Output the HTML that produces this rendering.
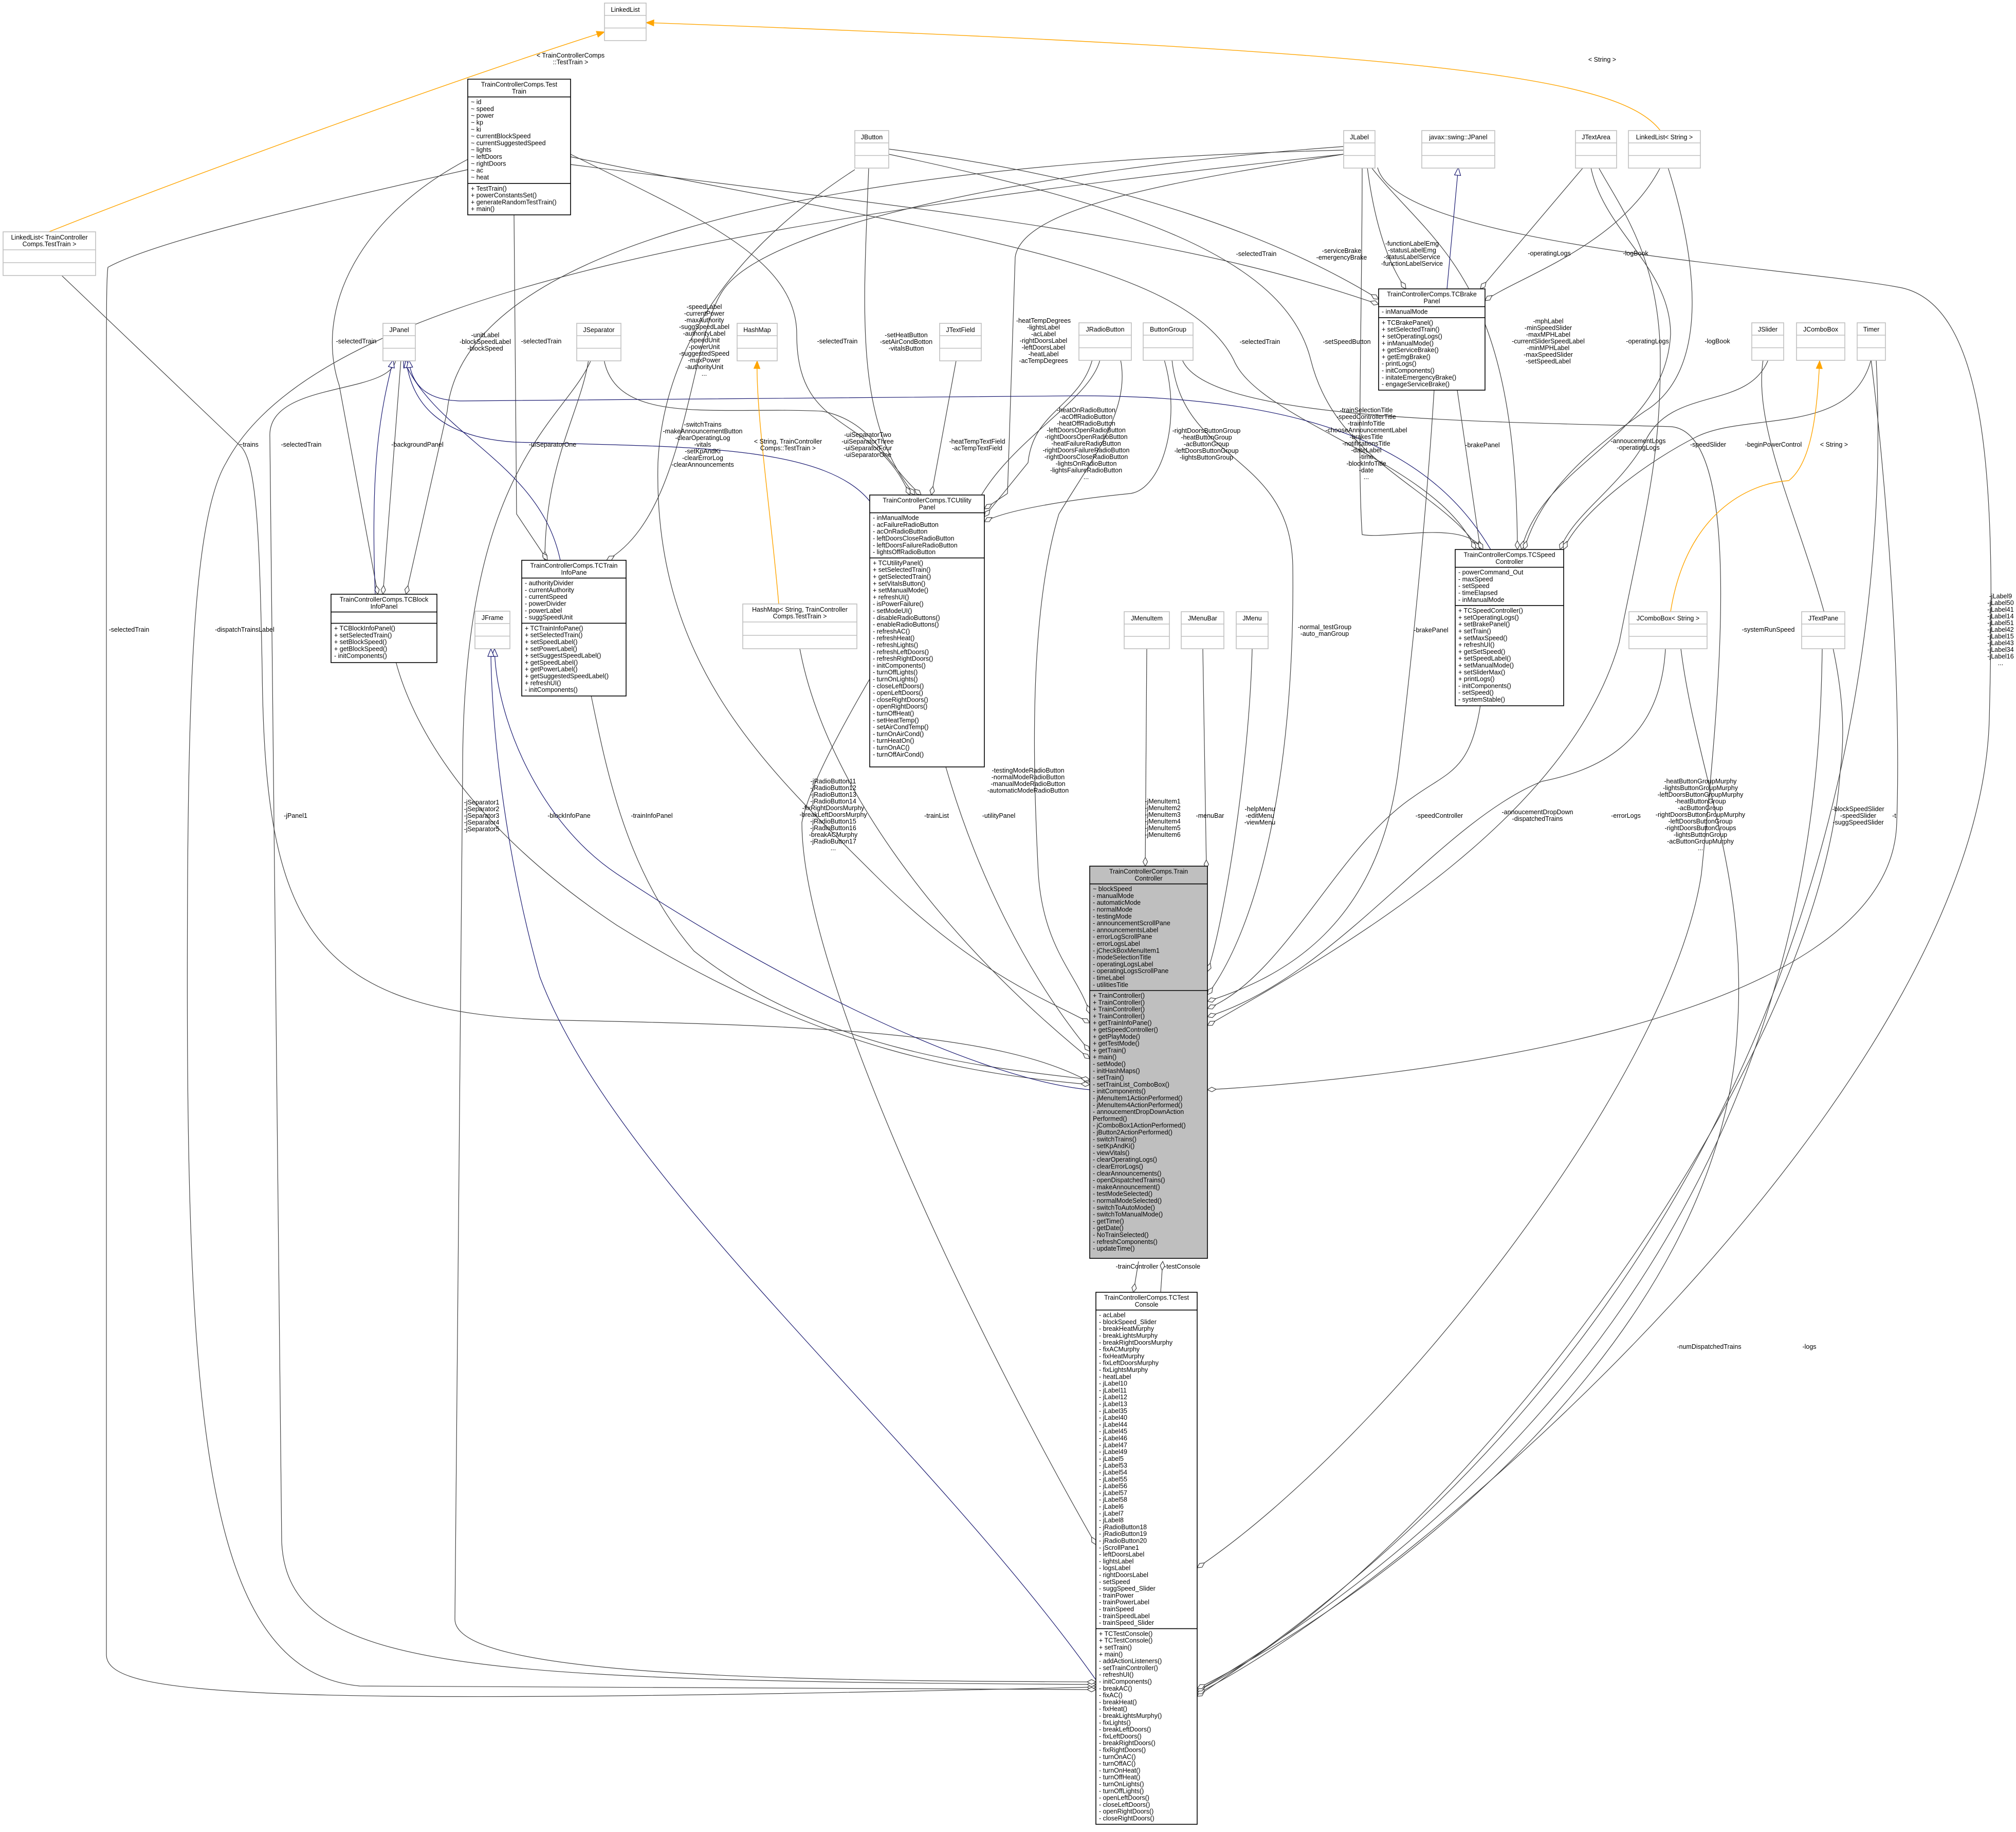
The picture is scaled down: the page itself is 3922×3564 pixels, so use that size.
<!DOCTYPE html>
<html><head><meta charset="utf-8"><style>
html,body{margin:0;padding:0;background:#fff}
svg{display:block}
text{font-family:"Liberation Sans",Arial,sans-serif;font-size:12.5px;fill:#000}
.c{text-anchor:middle}
.e{fill:none;stroke:#404040;stroke-width:1.2}
.b{fill:none;stroke:#191970;stroke-width:1.2}
.o{fill:none;stroke:#ffa500;stroke-width:1.4}
.box{fill:#fff;stroke:#000;stroke-width:1.6}
.gbox{fill:#fff;stroke:#bfbfbf;stroke-width:1.6}
.ln{stroke:#000;stroke-width:1.6}
.gln{stroke:#bfbfbf;stroke-width:1.6}
</style></head><body>
<svg width="3922" height="3564" viewBox="0 0 3922 3564" xmlns="http://www.w3.org/2000/svg">
<defs>
<marker id="d" markerWidth="20" markerHeight="12" refX="18" refY="6" orient="auto" markerUnits="userSpaceOnUse"><path d="M1,6 L9.5,1.5 L18,6 L9.5,10.5 Z" fill="#fff" stroke="#404040" stroke-width="1.2"/></marker>
<marker id="tb" markerWidth="18" markerHeight="14" refX="16" refY="7" orient="auto" markerUnits="userSpaceOnUse"><path d="M1,1 L16,7 L1,13 Z" fill="#fff" stroke="#191970" stroke-width="1.2"/></marker>
<marker id="to" markerWidth="18" markerHeight="14" refX="16" refY="7" orient="auto" markerUnits="userSpaceOnUse"><path d="M1,1 L16,7 L1,13 Z" fill="#ffa500" stroke="#ffa500"/></marker>
</defs>
<rect width="3922" height="3564" fill="#fff"/>

<!-- composition edges -->
<g class="e" marker-end="url(#d)">
<path class="e" marker-end="url(#d)" d="M120 536 L470 870 C500 905 505 1050 510 1300 C515 1800 600 1975 1100 1985 C1600 1995 1950 2010 2120 2105"/>
<path class="e" marker-end="url(#d)" d="M910 330 C600 400 300 470 210 520 C207 540 207 600 207 800 L207 3220 C210 3300 500 3320 2132 3282"/>
<path class="e" marker-end="url(#d)" d="M2614 300 C1500 420 620 560 440 900 C380 1000 368 1300 365 1700 C360 2700 380 3250 700 3280 L2132 3287"/>
<path class="e" marker-end="url(#d)" d="M770 700 C760 770 520 740 525 850 L548 3000 C560 3250 900 3270 2132 3277"/>
<path class="e" marker-end="url(#d)" d="M1150 700 C1100 820 900 900 900 1500 L885 3150 C885 3260 1500 3270 2132 3272"/>
<path class="e" marker-end="url(#d)" d="M770 1287 C800 1400 900 1600 1200 1800 C1600 2050 1900 2090 2120 2110"/>
<path class="e" marker-end="url(#d)" d="M1150 1353 C1180 1500 1220 1700 1350 1850 C1600 2050 1950 2080 2120 2100"/>
<path class="e" marker-end="url(#d)" d="M2140 700 C2120 780 1960 860 1900 980 C1700 1300 1580 1500 1560 1600 C1560 1900 1900 2600 2132 3005"/>
<path class="e" marker-end="url(#d)" d="M1556 1262 C1600 1500 1800 1800 2120 2060"/>
<path class="e" marker-end="url(#d)" d="M1840 1492 C1900 1700 2000 1900 2120 2045"/>
<path class="e" marker-end="url(#d)" d="M2231 1262 L2228 1685"/>
<path class="e" marker-end="url(#d)" d="M2340 1262 L2347 1690"/>
<path class="e" marker-end="url(#d)" d="M2436 1262 C2430 1500 2380 1800 2349 1890"/>
<path class="e" marker-end="url(#d)" d="M2280 700 C2300 900 2510 880 2515 1100 C2520 1500 2450 1800 2349 1935"/>
<path class="e" marker-end="url(#d)" d="M2790 759 C2775 1000 2745 1300 2720 1500 C2680 1800 2500 1900 2349 1948"/>
<path class="e" marker-end="url(#d)" d="M2880 1372 C2860 1500 2820 1500 2750 1550 C2600 1650 2500 1900 2349 1962"/>
<path class="e" marker-end="url(#d)" d="M3240 1262 C3230 1450 3100 1500 3000 1520 C2800 1600 2600 1900 2349 1978"/>
<path class="e" marker-end="url(#d)" d="M3110 326 C3150 400 3230 500 3230 700 C3230 900 3200 1000 3150 1250 C3050 1600 2600 1850 2349 1995"/>
<path class="e" marker-end="url(#d)" d="M2300 700 C2350 820 2900 820 3250 830 C3400 840 3340 1400 3310 1700 C3250 2100 2700 2800 2329 3050"/>
<path class="e" marker-end="url(#d)" d="M3430 700 C3400 900 3620 1200 3580 1500 C3540 2100 2800 3050 2329 3290"/>
<path class="e" marker-end="url(#d)" d="M3640 700 C3665 900 3700 1300 3690 1600 C3680 2000 2700 2100 2349 2120"/>
<path class="e" marker-end="url(#d)" d="M3650 700 C3665 1000 3690 2400 2329 3300"/>
<path class="e" marker-end="url(#d)" d="M2680 326 C2720 480 3500 520 3700 560 C3880 600 3880 1000 3870 1400 C3850 2100 2800 3050 2329 3295"/>
<path class="e" marker-end="url(#d)" d="M3545 1262 C3540 1600 3500 2600 2329 3290"/>
<path class="e" marker-end="url(#d)" d="M3270 1262 C3300 1500 3400 1700 3380 2000 C3350 2600 2700 3100 2329 3285"/>
<path class="e" marker-end="url(#d)" d="M2180 700 C2200 800 2120 900 2060 1000 C2000 1200 2010 1500 2020 1700 C2030 1850 2100 1900 2120 1972"/>
<path class="e" marker-end="url(#d)" d="M2215 2454 L2205 2514"/>
<path class="e" marker-end="url(#d)" d="M2258 2514 L2262 2454"/>
<path class="e" marker-end="url(#d)" d="M1663 330 C1400 500 1290 700 1280 900 C1270 1300 1500 1500 1700 1700 C1900 1900 2050 1950 2120 1990"/>
<path class="e" marker-end="url(#d)" d="M2614 285 C2000 330 1500 440 1410 560 C1340 650 1340 1000 1180 1090"/>
<path class="e" marker-end="url(#d)" d="M1145 700 C1130 800 1060 900 1060 1090"/>
<path class="e" marker-end="url(#d)" d="M1000 418 L1005 1000 L1065 1090"/>
<path class="e" marker-end="url(#d)" d="M1690 326 C1680 600 1660 820 1780 963"/>
<path class="e" marker-end="url(#d)" d="M1860 702 L1812 963"/>
<path class="e" marker-end="url(#d)" d="M1175 700 C1200 830 1400 790 1600 800 C1700 820 1720 900 1792 963"/>
<path class="e" marker-end="url(#d)" d="M1110 300 C1350 420 1550 500 1550 650 C1550 850 1700 800 1770 963"/>
<path class="e" marker-end="url(#d)" d="M2614 300 C2300 350 1990 400 1975 500 L1960 960 L1915 990"/>
<path class="e" marker-end="url(#d)" d="M2125 700 C2100 790 2010 800 2000 900 L1915 1005"/>
<path class="e" marker-end="url(#d)" d="M2265 700 C2300 820 2260 950 2200 960 C2100 970 1960 990 1915 1015"/>
<path class="e" marker-end="url(#d)" d="M910 310 C700 420 610 600 660 750 L735 1156"/>
<path class="e" marker-end="url(#d)" d="M780 700 L745 1156"/>
<path class="e" marker-end="url(#d)" d="M2614 292 C1500 320 900 500 870 800 L790 1156"/>
<path class="e" marker-end="url(#d)" d="M2660 326 C2680 480 2720 540 2735 562"/>
<path class="e" marker-end="url(#d)" d="M3080 326 L2880 562"/>
<path class="e" marker-end="url(#d)" d="M3230 326 C3150 480 2950 540 2889 585"/>
<path class="e" marker-end="url(#d)" d="M1110 320 C1900 420 2300 460 2682 592"/>
<path class="e" marker-end="url(#d)" d="M1729 290 C2200 350 2500 470 2682 582"/>
<path class="e" marker-end="url(#d)" d="M2668 326 C2790 480 2950 540 2952 1069"/>
<path class="e" marker-end="url(#d)" d="M3095 326 C3120 450 3250 520 3250 650 C3240 850 3000 900 2960 1069"/>
<path class="e" marker-end="url(#d)" d="M3245 326 C3300 500 3330 720 3200 800 C3100 870 3000 950 2965 1069"/>
<path class="e" marker-end="url(#d)" d="M3440 700 C3400 800 3250 750 3200 860 C3150 950 3060 1000 3035 1069"/>
<path class="e" marker-end="url(#d)" d="M3640 700 C3600 850 3400 800 3300 850 C3200 900 3070 1000 3042 1069"/>
<path class="e" marker-end="url(#d)" d="M2835 759 L2880 1069"/>
<path class="e" marker-end="url(#d)" d="M1729 300 C2200 400 2500 500 2550 700 C2600 900 2800 950 2878 1069"/>
<path class="e" marker-end="url(#d)" d="M1110 305 C1800 450 2300 500 2400 700 C2450 820 2800 900 2870 1069"/>
<path class="e" marker-end="url(#d)" d="M2650 326 C2650 600 2640 900 2650 1040 C2700 1050 2850 1010 2885 1069"/>
</g>

<!-- inheritance -->
<path class="b" marker-end="url(#tb)" d="M730 1156 C720 900 740 800 765 700"/>
<path class="b" marker-end="url(#tb)" d="M1090 1090 C1050 900 850 850 785 700"/>
<path class="b" marker-end="url(#tb)" d="M1692 975 C1600 860 1300 870 1000 860 C850 850 800 780 790 700"/>
<path class="b" marker-end="url(#tb)" d="M2900 1069 C2800 900 2600 770 2100 770 L900 780 C820 780 800 740 795 700"/>
<path class="b" marker-end="url(#tb)" d="M2815 562 L2837 326"/>
<path class="b" marker-end="url(#tb)" d="M2120 2120 C1900 2100 1500 1900 1200 1700 C1050 1600 965 1400 962 1262"/>
<path class="b" marker-end="url(#tb)" d="M2132 3268 C1800 2800 1200 2300 1050 1900 C980 1650 955 1400 955 1262"/>

<!-- template -->
<path class="o" marker-end="url(#to)" d="M95 451 C400 330 900 150 1176 62"/>
<path class="o" marker-end="url(#to)" d="M3230 254 C3150 150 2800 100 1257 44"/>
<path class="o" marker-end="url(#to)" d="M1515 1175 C1500 1000 1470 800 1473 702"/>
<path class="o" marker-end="url(#to)" d="M3250 1190 C3280 1000 3400 940 3480 935 C3525 900 3535 800 3540 702"/>

<!-- gray boxes -->
<g>
<rect class="gbox" x="1176" y="6" width="81" height="73"/><line class="gln" x1="1176" y1="30" x2="1257" y2="30"/><line class="gln" x1="1176" y1="54.5" x2="1257" y2="54.5"/><text class="c" x="1216.5" y="23">LinkedList</text>
<rect class="gbox" x="1663" y="254" width="66" height="73"/><line class="gln" x1="1663" y1="278" x2="1729" y2="278"/><line class="gln" x1="1663" y1="302.5" x2="1729" y2="302.5"/><text class="c" x="1696" y="271">JButton</text>
<rect class="gbox" x="2614" y="254" width="61" height="73"/><line class="gln" x1="2614" y1="278" x2="2675" y2="278"/><line class="gln" x1="2614" y1="302.5" x2="2675" y2="302.5"/><text class="c" x="2644.5" y="271">JLabel</text>
<rect class="gbox" x="2766" y="254" width="142" height="73"/><line class="gln" x1="2766" y1="278" x2="2908" y2="278"/><line class="gln" x1="2766" y1="302.5" x2="2908" y2="302.5"/><text class="c" x="2837" y="271">javax::swing::JPanel</text>
<rect class="gbox" x="3065" y="254" width="80" height="73"/><line class="gln" x1="3065" y1="278" x2="3145" y2="278"/><line class="gln" x1="3065" y1="302.5" x2="3145" y2="302.5"/><text class="c" x="3105" y="271">JTextArea</text>
<rect class="gbox" x="3168" y="254" width="140" height="73"/><line class="gln" x1="3168" y1="278" x2="3308" y2="278"/><line class="gln" x1="3168" y1="302.5" x2="3308" y2="302.5"/><text class="c" x="3238" y="271">LinkedList&lt; String &gt;</text>
<rect class="gbox" x="745" y="629" width="63" height="73"/><line class="gln" x1="745" y1="653" x2="808" y2="653"/><line class="gln" x1="745" y1="677.5" x2="808" y2="677.5"/><text class="c" x="776.5" y="646">JPanel</text>
<rect class="gbox" x="1122" y="629" width="86" height="73"/><line class="gln" x1="1122" y1="653" x2="1208" y2="653"/><line class="gln" x1="1122" y1="677.5" x2="1208" y2="677.5"/><text class="c" x="1165" y="646">JSeparator</text>
<rect class="gbox" x="1434" y="629" width="78" height="73"/><line class="gln" x1="1434" y1="653" x2="1512" y2="653"/><line class="gln" x1="1434" y1="677.5" x2="1512" y2="677.5"/><text class="c" x="1473" y="646">HashMap</text>
<rect class="gbox" x="1828" y="629" width="81" height="73"/><line class="gln" x1="1828" y1="653" x2="1909" y2="653"/><line class="gln" x1="1828" y1="677.5" x2="1909" y2="677.5"/><text class="c" x="1868.5" y="646">JTextField</text>
<rect class="gbox" x="2099" y="628" width="102" height="73"/><line class="gln" x1="2099" y1="652" x2="2201" y2="652"/><line class="gln" x1="2099" y1="676.5" x2="2201" y2="676.5"/><text class="c" x="2150" y="645">JRadioButton</text>
<rect class="gbox" x="2224" y="628" width="97" height="73"/><line class="gln" x1="2224" y1="652" x2="2321" y2="652"/><line class="gln" x1="2224" y1="676.5" x2="2321" y2="676.5"/><text class="c" x="2272.5" y="645">ButtonGroup</text>
<rect class="gbox" x="3408" y="628" width="62" height="73"/><line class="gln" x1="3408" y1="652" x2="3470" y2="652"/><line class="gln" x1="3408" y1="676.5" x2="3470" y2="676.5"/><text class="c" x="3439" y="645">JSlider</text>
<rect class="gbox" x="3495" y="628" width="94" height="73"/><line class="gln" x1="3495" y1="652" x2="3589" y2="652"/><line class="gln" x1="3495" y1="676.5" x2="3589" y2="676.5"/><text class="c" x="3542" y="645">JComboBox</text>
<rect class="gbox" x="3613" y="628" width="55" height="73"/><line class="gln" x1="3613" y1="652" x2="3668" y2="652"/><line class="gln" x1="3613" y1="676.5" x2="3668" y2="676.5"/><text class="c" x="3640.5" y="645">Timer</text>
<rect class="gbox" x="6" y="451" width="180" height="85"/><line class="gln" x1="6" y1="486" x2="186" y2="486"/><line class="gln" x1="6" y1="511" x2="186" y2="511"/><text class="c" x="96" y="466">LinkedList&lt; TrainController</text><text class="c" x="96" y="479">Comps.TestTrain &gt;</text>
<rect class="gbox" x="924" y="1189" width="68" height="73"/><line class="gln" x1="924" y1="1213" x2="992" y2="1213"/><line class="gln" x1="924" y1="1237.5" x2="992" y2="1237.5"/><text class="c" x="958" y="1206">JFrame</text>
<rect class="gbox" x="1445" y="1175" width="222" height="87"/><line class="gln" x1="1445" y1="1210" x2="1667" y2="1210"/><line class="gln" x1="1445" y1="1236" x2="1667" y2="1236"/><text class="c" x="1556" y="1190">HashMap&lt; String, TrainController</text><text class="c" x="1556" y="1203">Comps.TestTrain &gt;</text>
<rect class="gbox" x="2187" y="1190" width="88" height="72"/><line class="gln" x1="2187" y1="1214" x2="2275" y2="1214"/><line class="gln" x1="2187" y1="1238" x2="2275" y2="1238"/><text class="c" x="2231" y="1207">JMenuItem</text>
<rect class="gbox" x="2298" y="1190" width="83" height="72"/><line class="gln" x1="2298" y1="1214" x2="2381" y2="1214"/><line class="gln" x1="2298" y1="1238" x2="2381" y2="1238"/><text class="c" x="2339.5" y="1207">JMenuBar</text>
<rect class="gbox" x="2405" y="1190" width="62" height="72"/><line class="gln" x1="2405" y1="1214" x2="2467" y2="1214"/><line class="gln" x1="2405" y1="1238" x2="2467" y2="1238"/><text class="c" x="2436" y="1207">JMenu</text>
<rect class="gbox" x="3169" y="1190" width="152" height="72"/><line class="gln" x1="3169" y1="1214" x2="3321" y2="1214"/><line class="gln" x1="3169" y1="1238" x2="3321" y2="1238"/><text class="c" x="3245" y="1207">JComboBox&lt; String &gt;</text>
<rect class="gbox" x="3505" y="1190" width="84" height="72"/><line class="gln" x1="3505" y1="1214" x2="3589" y2="1214"/><line class="gln" x1="3505" y1="1238" x2="3589" y2="1238"/><text class="c" x="3547" y="1207">JTextPane</text>
</g>

<!-- TestTrain -->
<rect class="box" x="910" y="154" width="200" height="264"/>
<line class="ln" x1="910" y1="188.6" x2="1110" y2="188.6"/><line class="ln" x1="910" y1="356.8" x2="1110" y2="356.8"/>
<text class="c" x="1010" y="168.5">TrainControllerComps.Test</text><text class="c" x="1010" y="181.8">Train</text>
<text x="916" y="202.6"><tspan>~ id</tspan><tspan x="916" dy="13.3">~ speed</tspan><tspan x="916" dy="13.3">~ power</tspan><tspan x="916" dy="13.3">~ kp</tspan><tspan x="916" dy="13.3">~ ki</tspan><tspan x="916" dy="13.3">~ currentBlockSpeed</tspan><tspan x="916" dy="13.3">~ currentSuggestedSpeed</tspan><tspan x="916" dy="13.3">~ lights</tspan><tspan x="916" dy="13.3">~ leftDoors</tspan><tspan x="916" dy="13.3">~ rightDoors</tspan><tspan x="916" dy="13.3">~ ac</tspan><tspan x="916" dy="13.3">~ heat</tspan></text>
<text x="916" y="370.8"><tspan>+ TestTrain()</tspan><tspan x="916" dy="13.3">+ powerConstantsSet()</tspan><tspan x="916" dy="13.3">+ generateRandomTestTrain()</tspan><tspan x="916" dy="13.3">+ main()</tspan></text>

<!-- TCBrake -->
<rect class="box" x="2682" y="562" width="207" height="197"/>
<line class="ln" x1="2682" y1="596.6" x2="2889" y2="596.6"/><line class="ln" x1="2682" y1="617.9" x2="2889" y2="617.9"/>
<text class="c" x="2785.5" y="576.5">TrainControllerComps.TCBrake</text><text class="c" x="2785.5" y="589.8">Panel</text>
<text x="2688" y="610.6">- inManualMode</text>
<text x="2688" y="631.9"><tspan>+ TCBrakePanel()</tspan><tspan x="2688" dy="13.3">+ setSelectedTrain()</tspan><tspan x="2688" dy="13.3">+ setOperatingLogs()</tspan><tspan x="2688" dy="13.3">+ inManualMode()</tspan><tspan x="2688" dy="13.3">+ getServiceBrake()</tspan><tspan x="2688" dy="13.3">+ getEmgBrake()</tspan><tspan x="2688" dy="13.3">- printLogs()</tspan><tspan x="2688" dy="13.3">- initComponents()</tspan><tspan x="2688" dy="13.3">- initateEmergencyBrake()</tspan><tspan x="2688" dy="13.3">- engageServiceBrake()</tspan></text>

<!-- TCSpeed -->
<rect class="box" x="2831" y="1069" width="211" height="304"/>
<line class="ln" x1="2831" y1="1103.6" x2="3042" y2="1103.6"/><line class="ln" x1="2831" y1="1178.1" x2="3042" y2="1178.1"/>
<text class="c" x="2936.5" y="1083.5">TrainControllerComps.TCSpeed</text><text class="c" x="2936.5" y="1096.8">Controller</text>
<text x="2837" y="1117.6"><tspan>- powerCommand_Out</tspan><tspan x="2837" dy="13.3">- maxSpeed</tspan><tspan x="2837" dy="13.3">- setSpeed</tspan><tspan x="2837" dy="13.3">- timeElapsed</tspan><tspan x="2837" dy="13.3">- inManualMode</tspan></text>
<text x="2837" y="1192.1"><tspan>+ TCSpeedController()</tspan><tspan x="2837" dy="13.3">+ setOperatingLogs()</tspan><tspan x="2837" dy="13.3">+ setBrakePanel()</tspan><tspan x="2837" dy="13.3">+ setTrain()</tspan><tspan x="2837" dy="13.3">+ setMaxSpeed()</tspan><tspan x="2837" dy="13.3">+ refreshUI()</tspan><tspan x="2837" dy="13.3">+ getSetSpeed()</tspan><tspan x="2837" dy="13.3">+ setSpeedLabel()</tspan><tspan x="2837" dy="13.3">+ setManualMode()</tspan><tspan x="2837" dy="13.3">+ setSliderMax()</tspan><tspan x="2837" dy="13.3">+ printLogs()</tspan><tspan x="2837" dy="13.3">- initComponents()</tspan><tspan x="2837" dy="13.3">- setSpeed()</tspan><tspan x="2837" dy="13.3">- systemStable()</tspan></text>

<!-- TCUtility -->
<rect class="box" x="1692" y="963" width="223" height="529"/>
<line class="ln" x1="1692" y1="997.6" x2="1915" y2="997.6"/><line class="ln" x1="1692" y1="1085.4" x2="1915" y2="1085.4"/>
<text class="c" x="1803.5" y="977.5">TrainControllerComps.TCUtility</text><text class="c" x="1803.5" y="990.8">Panel</text>
<text x="1698" y="1011.6"><tspan>- inManualMode</tspan><tspan x="1698" dy="13.3">- acFailureRadioButton</tspan><tspan x="1698" dy="13.3">- acOnRadioButton</tspan><tspan x="1698" dy="13.3">- leftDoorsCloseRadioButton</tspan><tspan x="1698" dy="13.3">- leftDoorsFailureRadioButton</tspan><tspan x="1698" dy="13.3">- lightsOffRadioButton</tspan></text>
<text x="1698" y="1099.4"><tspan>+ TCUtilityPanel()</tspan><tspan x="1698" dy="13.3">+ setSelectedTrain()</tspan><tspan x="1698" dy="13.3">+ getSelectedTrain()</tspan><tspan x="1698" dy="13.3">+ setVitalsButton()</tspan><tspan x="1698" dy="13.3">+ setManualMode()</tspan><tspan x="1698" dy="13.3">+ refreshUI()</tspan><tspan x="1698" dy="13.3">- isPowerFailure()</tspan><tspan x="1698" dy="13.3">- setModeUI()</tspan><tspan x="1698" dy="13.3">- disableRadioButtons()</tspan><tspan x="1698" dy="13.3">- enableRadioButtons()</tspan><tspan x="1698" dy="13.3">- refreshAC()</tspan><tspan x="1698" dy="13.3">- refreshHeat()</tspan><tspan x="1698" dy="13.3">- refreshLights()</tspan><tspan x="1698" dy="13.3">- refreshLeftDoors()</tspan><tspan x="1698" dy="13.3">- refreshRightDoors()</tspan><tspan x="1698" dy="13.3">- initComponents()</tspan><tspan x="1698" dy="13.3">- turnOffLights()</tspan><tspan x="1698" dy="13.3">- turnOnLights()</tspan><tspan x="1698" dy="13.3">- closeLeftDoors()</tspan><tspan x="1698" dy="13.3">- openLeftDoors()</tspan><tspan x="1698" dy="13.3">- closeRightDoors()</tspan><tspan x="1698" dy="13.3">- openRightDoors()</tspan><tspan x="1698" dy="13.3">- turnOffHeat()</tspan><tspan x="1698" dy="13.3">- setHeatTemp()</tspan><tspan x="1698" dy="13.3">- setAirCondTemp()</tspan><tspan x="1698" dy="13.3">- turnOnAirCond()</tspan><tspan x="1698" dy="13.3">- turnHeatOn()</tspan><tspan x="1698" dy="13.3">- turnOnAC()</tspan><tspan x="1698" dy="13.3">- turnOffAirCond()</tspan></text>

<!-- TCTrainInfo -->
<rect class="box" x="1015" y="1090" width="203" height="264"/>
<line class="ln" x1="1015" y1="1124.6" x2="1218" y2="1124.6"/><line class="ln" x1="1015" y1="1212.4" x2="1218" y2="1212.4"/>
<text class="c" x="1116.5" y="1104.5">TrainControllerComps.TCTrain</text><text class="c" x="1116.5" y="1117.8">InfoPane</text>
<text x="1021" y="1138.6"><tspan>- authorityDivider</tspan><tspan x="1021" dy="13.3">- currentAuthority</tspan><tspan x="1021" dy="13.3">- currentSpeed</tspan><tspan x="1021" dy="13.3">- powerDivider</tspan><tspan x="1021" dy="13.3">- powerLabel</tspan><tspan x="1021" dy="13.3">- suggSpeedUnit</tspan></text>
<text x="1021" y="1226.4"><tspan>+ TCTrainInfoPane()</tspan><tspan x="1021" dy="13.3">+ setSelectedTrain()</tspan><tspan x="1021" dy="13.3">+ setSpeedLabel()</tspan><tspan x="1021" dy="13.3">+ setPowerLabel()</tspan><tspan x="1021" dy="13.3">+ setSuggestSpeedLabel()</tspan><tspan x="1021" dy="13.3">+ getSpeedLabel()</tspan><tspan x="1021" dy="13.3">+ getPowerLabel()</tspan><tspan x="1021" dy="13.3">+ getSuggestedSpeedLabel()</tspan><tspan x="1021" dy="13.3">+ refreshUI()</tspan><tspan x="1021" dy="13.3">- initComponents()</tspan></text>

<!-- TCBlock -->
<rect class="box" x="644" y="1156" width="206" height="133"/>
<line class="ln" x1="644" y1="1190.6" x2="850" y2="1190.6"/><line class="ln" x1="644" y1="1212.6" x2="850" y2="1212.6"/>
<text class="c" x="747" y="1170.5">TrainControllerComps.TCBlock</text><text class="c" x="747" y="1183.8">InfoPanel</text>
<text x="650" y="1226.6"><tspan>+ TCBlockInfoPanel()</tspan><tspan x="650" dy="13.3">+ setSelectedTrain()</tspan><tspan x="650" dy="13.3">+ setBlockSpeed()</tspan><tspan x="650" dy="13.3">+ getBlockSpeed()</tspan><tspan x="650" dy="13.3">- initComponents()</tspan></text>

<!-- Main TrainController -->
<rect x="2120" y="1685" width="229" height="763" fill="#bfbfbf" stroke="#000" stroke-width="1.6"/>
<line class="ln" x1="2120" y1="1719.6" x2="2349" y2="1719.6"/><line class="ln" x1="2120" y1="1927" x2="2349" y2="1927"/>
<text class="c" x="2234.5" y="1699.5">TrainControllerComps.Train</text><text class="c" x="2234.5" y="1712.8">Controller</text>
<text x="2126" y="1733.6"><tspan>~ blockSpeed</tspan><tspan x="2126" dy="13.3">- manualMode</tspan><tspan x="2126" dy="13.3">- automaticMode</tspan><tspan x="2126" dy="13.3">- normalMode</tspan><tspan x="2126" dy="13.3">- testingMode</tspan><tspan x="2126" dy="13.3">- announcementScrollPane</tspan><tspan x="2126" dy="13.3">- announcementsLabel</tspan><tspan x="2126" dy="13.3">- errorLogScrollPane</tspan><tspan x="2126" dy="13.3">- errorLogsLabel</tspan><tspan x="2126" dy="13.3">- jCheckBoxMenuItem1</tspan><tspan x="2126" dy="13.3">- modeSelectionTitle</tspan><tspan x="2126" dy="13.3">- operatingLogsLabel</tspan><tspan x="2126" dy="13.3">- operatingLogsScrollPane</tspan><tspan x="2126" dy="13.3">- timeLabel</tspan><tspan x="2126" dy="13.3">- utilitiesTitle</tspan></text>
<text x="2126" y="1941"><tspan>+ TrainController()</tspan><tspan x="2126" dy="13.3">+ TrainController()</tspan><tspan x="2126" dy="13.3">+ TrainController()</tspan><tspan x="2126" dy="13.3">+ TrainController()</tspan><tspan x="2126" dy="13.3">+ getTrainInfoPane()</tspan><tspan x="2126" dy="13.3">+ getSpeedController()</tspan><tspan x="2126" dy="13.3">+ getPlayMode()</tspan><tspan x="2126" dy="13.3">+ getTestMode()</tspan><tspan x="2126" dy="13.3">+ getTrain()</tspan><tspan x="2126" dy="13.3">+ main()</tspan><tspan x="2126" dy="13.3">- setMode()</tspan><tspan x="2126" dy="13.3">- initHashMaps()</tspan><tspan x="2126" dy="13.3">- setTrain()</tspan><tspan x="2126" dy="13.3">- setTrainList_ComboBox()</tspan><tspan x="2126" dy="13.3">- initComponents()</tspan><tspan x="2126" dy="13.3">- jMenuItem1ActionPerformed()</tspan><tspan x="2126" dy="13.3">- jMenuItem4ActionPerformed()</tspan><tspan x="2126" dy="13.3">- annoucementDropDownAction</tspan><tspan x="2126" dy="13.3">Performed()</tspan><tspan x="2126" dy="13.3">- jComboBox1ActionPerformed()</tspan><tspan x="2126" dy="13.3">- jButton2ActionPerformed()</tspan><tspan x="2126" dy="13.3">- switchTrains()</tspan><tspan x="2126" dy="13.3">- setKpAndKi()</tspan><tspan x="2126" dy="13.3">- viewVitals()</tspan><tspan x="2126" dy="13.3">- clearOperatingLogs()</tspan><tspan x="2126" dy="13.3">- clearErrorLogs()</tspan><tspan x="2126" dy="13.3">- clearAnnouncements()</tspan><tspan x="2126" dy="13.3">- openDispatchedTrains()</tspan><tspan x="2126" dy="13.3">- makeAnnouncement()</tspan><tspan x="2126" dy="13.3">- testModeSelected()</tspan><tspan x="2126" dy="13.3">- normalModeSelected()</tspan><tspan x="2126" dy="13.3">- switchToAutoMode()</tspan><tspan x="2126" dy="13.3">- switchToManualMode()</tspan><tspan x="2126" dy="13.3">- getTime()</tspan><tspan x="2126" dy="13.3">- getDate()</tspan><tspan x="2126" dy="13.3">- NoTrainSelected()</tspan><tspan x="2126" dy="13.3">- refreshComponents()</tspan><tspan x="2126" dy="13.3">- updateTime()</tspan></text>

<!-- TCTestConsole -->
<rect class="box" x="2132" y="2514" width="197" height="1035"/>
<line class="ln" x1="2132" y1="2548.6" x2="2329" y2="2548.6"/><line class="ln" x1="2132" y1="3168.4" x2="2329" y2="3168.4"/>
<text class="c" x="2230.5" y="2528.5">TrainControllerComps.TCTest</text><text class="c" x="2230.5" y="2541.8">Console</text>
<text x="2138" y="2562.6"><tspan>- acLabel</tspan><tspan x="2138" dy="13.3">- blockSpeed_Slider</tspan><tspan x="2138" dy="13.3">- breakHeatMurphy</tspan><tspan x="2138" dy="13.3">- breakLightsMurphy</tspan><tspan x="2138" dy="13.3">- breakRightDoorsMurphy</tspan><tspan x="2138" dy="13.3">- fixACMurphy</tspan><tspan x="2138" dy="13.3">- fixHeatMurphy</tspan><tspan x="2138" dy="13.3">- fixLeftDoorsMurphy</tspan><tspan x="2138" dy="13.3">- fixLightsMurphy</tspan><tspan x="2138" dy="13.3">- heatLabel</tspan><tspan x="2138" dy="13.3">- jLabel10</tspan><tspan x="2138" dy="13.3">- jLabel11</tspan><tspan x="2138" dy="13.3">- jLabel12</tspan><tspan x="2138" dy="13.3">- jLabel13</tspan><tspan x="2138" dy="13.3">- jLabel35</tspan><tspan x="2138" dy="13.3">- jLabel40</tspan><tspan x="2138" dy="13.3">- jLabel44</tspan><tspan x="2138" dy="13.3">- jLabel45</tspan><tspan x="2138" dy="13.3">- jLabel46</tspan><tspan x="2138" dy="13.3">- jLabel47</tspan><tspan x="2138" dy="13.3">- jLabel49</tspan><tspan x="2138" dy="13.3">- jLabel5</tspan><tspan x="2138" dy="13.3">- jLabel53</tspan><tspan x="2138" dy="13.3">- jLabel54</tspan><tspan x="2138" dy="13.3">- jLabel55</tspan><tspan x="2138" dy="13.3">- jLabel56</tspan><tspan x="2138" dy="13.3">- jLabel57</tspan><tspan x="2138" dy="13.3">- jLabel58</tspan><tspan x="2138" dy="13.3">- jLabel6</tspan><tspan x="2138" dy="13.3">- jLabel7</tspan><tspan x="2138" dy="13.3">- jLabel8</tspan><tspan x="2138" dy="13.3">- jRadioButton18</tspan><tspan x="2138" dy="13.3">- jRadioButton19</tspan><tspan x="2138" dy="13.3">- jRadioButton20</tspan><tspan x="2138" dy="13.3">- jScrollPane1</tspan><tspan x="2138" dy="13.3">- leftDoorsLabel</tspan><tspan x="2138" dy="13.3">- lightsLabel</tspan><tspan x="2138" dy="13.3">- logsLabel</tspan><tspan x="2138" dy="13.3">- rightDoorsLabel</tspan><tspan x="2138" dy="13.3">- setSpeed</tspan><tspan x="2138" dy="13.3">- suggSpeed_Slider</tspan><tspan x="2138" dy="13.3">- trainPower</tspan><tspan x="2138" dy="13.3">- trainPowerLabel</tspan><tspan x="2138" dy="13.3">- trainSpeed</tspan><tspan x="2138" dy="13.3">- trainSpeedLabel</tspan><tspan x="2138" dy="13.3">- trainSpeed_Slider</tspan></text>
<text x="2138" y="3182.4"><tspan>+ TCTestConsole()</tspan><tspan x="2138" dy="13.3">+ TCTestConsole()</tspan><tspan x="2138" dy="13.3">+ setTrain()</tspan><tspan x="2138" dy="13.3">+ main()</tspan><tspan x="2138" dy="13.3">- addActionListeners()</tspan><tspan x="2138" dy="13.3">- setTrainController()</tspan><tspan x="2138" dy="13.3">- refreshUI()</tspan><tspan x="2138" dy="13.3">- initComponents()</tspan><tspan x="2138" dy="13.3">- breakAC()</tspan><tspan x="2138" dy="13.3">- fixAC()</tspan><tspan x="2138" dy="13.3">- breakHeat()</tspan><tspan x="2138" dy="13.3">- fixHeat()</tspan><tspan x="2138" dy="13.3">- breakLightsMurphy()</tspan><tspan x="2138" dy="13.3">- fixLights()</tspan><tspan x="2138" dy="13.3">- breakLeftDoors()</tspan><tspan x="2138" dy="13.3">- fixLeftDoors()</tspan><tspan x="2138" dy="13.3">- breakRightDoors()</tspan><tspan x="2138" dy="13.3">- fixRightDoors()</tspan><tspan x="2138" dy="13.3">- turnOnAC()</tspan><tspan x="2138" dy="13.3">- turnOffAC()</tspan><tspan x="2138" dy="13.3">- turnOnHeat()</tspan><tspan x="2138" dy="13.3">- turnOffHeat()</tspan><tspan x="2138" dy="13.3">- turnOnLights()</tspan><tspan x="2138" dy="13.3">- turnOffLights()</tspan><tspan x="2138" dy="13.3">- openLeftDoors()</tspan><tspan x="2138" dy="13.3">- closeLeftDoors()</tspan><tspan x="2138" dy="13.3">- openRightDoors()</tspan><tspan x="2138" dy="13.3">- closeRightDoors()</tspan></text>

<!-- edge labels -->
<g class="c">
<text class="c" x="1110" y="112">&lt; TrainControllerComps</text><text class="c" x="1110" y="125">::TestTrain &gt;</text>
<text class="c" x="3117" y="120">&lt; String &gt;</text>
<text class="c" x="484" y="869">~trains</text>
<text class="c" x="586" y="869">-selectedTrain</text>
<text class="c" x="812" y="869">-backgroundPanel</text>
<text class="c" x="693" y="668">-selectedTrain</text>
<text class="c" x="944" y="656">-unitLabel</text><text class="c" x="944" y="669">-blockSpeedLabel</text><text class="c" x="944" y="682">-blockSpeed</text>
<text class="c" x="1053" y="668">-selectedTrain</text>
<text class="c" x="1075" y="869">-uiSeparatorOne</text>
<text class="c" x="251" y="1229">-selectedTrain</text>
<text class="c" x="476" y="1229">-dispatchTrainsLabel</text>
<text class="c" x="575" y="1591">-jPanel1</text>
<text class="c" x="937" y="1565">-jSeparator1</text><text class="c" x="937" y="1578">-jSeparator2</text><text class="c" x="937" y="1591">-jSeparator3</text><text class="c" x="937" y="1604">-jSeparator4</text><text class="c" x="937" y="1617">-jSeparator5</text>
<text class="c" x="1107" y="1591">-blockInfoPane</text>
<text class="c" x="1268" y="1591">-trainInfoPanel</text>
<text class="c" x="1621" y="1524">-jRadioButton11</text><text class="c" x="1621" y="1537">-jRadioButton12</text><text class="c" x="1621" y="1550">-jRadioButton13</text><text class="c" x="1621" y="1563">-jRadioButton14</text><text class="c" x="1621" y="1576">-fixRightDoorsMurphy</text><text class="c" x="1621" y="1589">-breakLeftDoorsMurphy</text><text class="c" x="1621" y="1602">-jRadioButton15</text><text class="c" x="1621" y="1615">-jRadioButton16</text><text class="c" x="1621" y="1628">-breakACMurphy</text><text class="c" x="1621" y="1641">-jRadioButton17</text><text class="c" x="1621" y="1654">...</text>
<text class="c" x="1822" y="1591">-trainList</text>
<text class="c" x="1943" y="1591">-utilityPanel</text>
<text class="c" x="2262" y="1563">-jMenuItem1</text><text class="c" x="2262" y="1576">-jMenuItem2</text><text class="c" x="2262" y="1589">-jMenuItem3</text><text class="c" x="2262" y="1602">-jMenuItem4</text><text class="c" x="2262" y="1615">-jMenuItem5</text><text class="c" x="2262" y="1628">-jMenuItem6</text>
<text class="c" x="2354" y="1591">-menuBar</text>
<text class="c" x="2451" y="1578">-helpMenu</text><text class="c" x="2451" y="1591">-editMenu</text><text class="c" x="2451" y="1604">-viewMenu</text>
<text class="c" x="2000" y="1503">-testingModeRadioButton</text><text class="c" x="2000" y="1516">-normalModeRadioButton</text><text class="c" x="2000" y="1529">-manualModeRadioButton</text><text class="c" x="2000" y="1542">-automaticModeRadioButton</text>
<text class="c" x="2577" y="1224">-normal_testGroup</text><text class="c" x="2577" y="1237">-auto_manGroup</text>
<text class="c" x="2784" y="1230">-brakePanel</text>
<text class="c" x="2800" y="1591">-speedController</text>
<text class="c" x="2991" y="1584">-annoucementDropDown</text><text class="c" x="2991" y="1597">-dispatchedTrains</text>
<text class="c" x="3163" y="1591">-errorLogs</text>
<text class="c" x="3308" y="1524">-heatButtonGroupMurphy</text><text class="c" x="3308" y="1537">-lightsButtonGroupMurphy</text><text class="c" x="3308" y="1550">-leftDoorsButtonGroupMurphy</text><text class="c" x="3308" y="1563">-heatButtonGroup</text><text class="c" x="3308" y="1576">-acButtonGroup</text><text class="c" x="3308" y="1589">-rightDoorsButtonGroupMurphy</text><text class="c" x="3308" y="1602">-leftDoorsButtonGroup</text><text class="c" x="3308" y="1615">-rightDoorsButtonGroups</text><text class="c" x="3308" y="1628">-lightsButtonGroup</text><text class="c" x="3308" y="1641">-acButtonGroupMurphy</text><text class="c" x="3308" y="1654">...</text>
<text class="c" x="3615" y="1578">-blockSpeedSlider</text><text class="c" x="3615" y="1591">-speedSlider</text><text class="c" x="3615" y="1604">-suggSpeedSlider</text>
<text class="c" x="3685" y="1591">-t</text>
<text class="c" x="3440" y="1229">-systemRunSpeed</text>
<text class="c" x="3892" y="1164">-jLabel9</text><text class="c" x="3892" y="1177">-jLabel50</text><text class="c" x="3892" y="1190">-jLabel41</text><text class="c" x="3892" y="1203">-jLabel14</text><text class="c" x="3892" y="1216">-jLabel51</text><text class="c" x="3892" y="1229">-jLabel42</text><text class="c" x="3892" y="1242">-jLabel15</text><text class="c" x="3892" y="1255">-jLabel43</text><text class="c" x="3892" y="1268">-jLabel34</text><text class="c" x="3892" y="1281">-jLabel16</text><text class="c" x="3892" y="1294">...</text>
<text class="c" x="3325" y="2624">-numDispatchedTrains</text>
<text class="c" x="3520" y="2624">-logs</text>
<text class="c" x="2212" y="2468">-trainController</text>
<text class="c" x="2300" y="2468">-testConsole</text>
<text class="c" x="1370" y="601">-speedLabel</text><text class="c" x="1370" y="614">-currentPower</text><text class="c" x="1370" y="627">-maxAuthority</text><text class="c" x="1370" y="640">-suggSpeedLabel</text><text class="c" x="1370" y="653">-authorityLabel</text><text class="c" x="1370" y="666">-speedUnit</text><text class="c" x="1370" y="679">-powerUnit</text><text class="c" x="1370" y="692">-suggestedSpeed</text><text class="c" x="1370" y="705">-maxPower</text><text class="c" x="1370" y="718">-authorityUnit</text><text class="c" x="1370" y="731">...</text>
<text class="c" x="1367" y="830">-switchTrains</text><text class="c" x="1367" y="843">-makeAnnouncementButton</text><text class="c" x="1367" y="856">-clearOperatingLog</text><text class="c" x="1367" y="869">-vitals</text><text class="c" x="1367" y="882">-setKpAndKi</text><text class="c" x="1367" y="895">-clearErrorLog</text><text class="c" x="1367" y="908">-clearAnnouncements</text>
<text class="c" x="1533" y="863">&lt; String, TrainController</text><text class="c" x="1533" y="876">Comps::TestTrain &gt;</text>
<text class="c" x="1688" y="850">-uiSeparatorTwo</text><text class="c" x="1688" y="863">-uiSeparatorThree</text><text class="c" x="1688" y="876">-uiSeparatorFour</text><text class="c" x="1688" y="889">-uiSeparatorOne</text>
<text class="c" x="1901" y="863">-heatTempTextField</text><text class="c" x="1901" y="876">-acTempTextField</text>
<text class="c" x="1629" y="668">-selectedTrain</text>
<text class="c" x="1763" y="656">-setHeatButton</text><text class="c" x="1763" y="669">-setAirCondBotton</text><text class="c" x="1763" y="682">-vitalsButton</text>
<text class="c" x="2030" y="628">-heatTempDegrees</text><text class="c" x="2030" y="641">-lightsLabel</text><text class="c" x="2030" y="654">-acLabel</text><text class="c" x="2030" y="667">-rightDoorsLabel</text><text class="c" x="2030" y="680">-leftDoorsLabel</text><text class="c" x="2030" y="693">-heatLabel</text><text class="c" x="2030" y="706">-acTempDegrees</text>
<text class="c" x="2113" y="802">-heatOnRadioButton</text><text class="c" x="2113" y="815">-acOffRadioButton</text><text class="c" x="2113" y="828">-heatOffRadioButton</text><text class="c" x="2113" y="841">-leftDoorsOpenRadioButton</text><text class="c" x="2113" y="854">-rightDoorsOpenRadioButton</text><text class="c" x="2113" y="867">-heatFailureRadioButton</text><text class="c" x="2113" y="880">-rightDoorsFailureRadioButton</text><text class="c" x="2113" y="893">-rightDoorsCloseRadioButton</text><text class="c" x="2113" y="906">-lightsOnRadioButton</text><text class="c" x="2113" y="919">-lightsFailureRadioButton</text><text class="c" x="2113" y="932">...</text>
<text class="c" x="2347" y="842">-rightDoorsButtonGroup</text><text class="c" x="2347" y="855">-heatButtonGroup</text><text class="c" x="2347" y="868">-acButtonGroup</text><text class="c" x="2347" y="881">-leftDoorsButtonGroup</text><text class="c" x="2347" y="894">-lightsButtonGroup</text>
<text class="c" x="2444" y="498">-selectedTrain</text>
<text class="c" x="2451" y="669">-selectedTrain</text>
<text class="c" x="2610" y="492">-serviceBrake</text><text class="c" x="2610" y="505">-emergencyBrake</text>
<text class="c" x="2620" y="669">-setSpeedButton</text>
<text class="c" x="2747" y="478">-functionLabelEmg</text><text class="c" x="2747" y="491">-statusLabelEmg</text><text class="c" x="2747" y="504">-statusLabelService</text><text class="c" x="2747" y="517">-functionLabelService</text>
<text class="c" x="2658" y="802">-trainSelectionTitle</text><text class="c" x="2658" y="815">-speedControllerTitle</text><text class="c" x="2658" y="828">-trainInfoTitle</text><text class="c" x="2658" y="841">-chooseAnnouncementLabel</text><text class="c" x="2658" y="854">-brakesTitle</text><text class="c" x="2658" y="867">-notificationsTitle</text><text class="c" x="2658" y="880">-dateLabel</text><text class="c" x="2658" y="893">-time</text><text class="c" x="2658" y="906">-blockInfoTitle</text><text class="c" x="2658" y="919">-date</text><text class="c" x="2658" y="932">...</text>
<text class="c" x="2884" y="870">-brakePanel</text>
<text class="c" x="3014" y="497">-operatingLogs</text>
<text class="c" x="3182" y="497">-logBook</text>
<text class="c" x="3012" y="629">-mphLabel</text><text class="c" x="3012" y="642">-minSpeedSlider</text><text class="c" x="3012" y="655">-maxMPHLabel</text><text class="c" x="3012" y="668">-currentSliderSpeedLabel</text><text class="c" x="3012" y="681">-minMPHLabel</text><text class="c" x="3012" y="694">-maxSpeedSlider</text><text class="c" x="3012" y="707">-setSpeedLabel</text>
<text class="c" x="3205" y="668">-operatingLogs</text>
<text class="c" x="3341" y="668">-logBook</text>
<text class="c" x="3187" y="862">-annoucementLogs</text><text class="c" x="3187" y="875">-operatingLogs</text>
<text class="c" x="3323" y="869">-speedSlider</text>
<text class="c" x="3450" y="869">-beginPowerControl</text>
<text class="c" x="3568" y="869">&lt; String &gt;</text>
</g>
</svg>
</body></html>
